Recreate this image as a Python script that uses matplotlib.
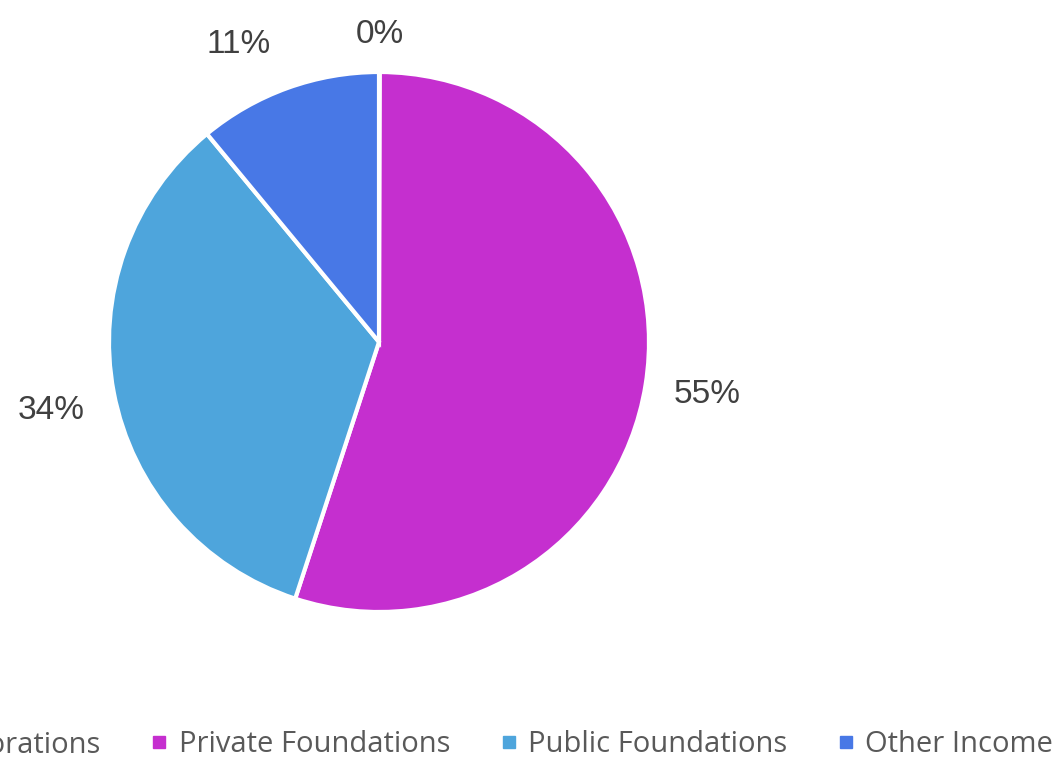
import matplotlib
matplotlib.use("Agg")
import matplotlib.pyplot as plt
from matplotlib.lines import Line2D
import numpy as np

categories = ["Corporations", "Private Foundations", "Public Foundations", "Other Income"]
values = [0.05, 55, 34, 11]
colors = ["#3B3EAC", "#C52FCF", "#4EA5DC", "#4878E6"]

W, H = 1059, 758
fig = plt.figure(figsize=(W / 100, H / 100), dpi=100)
ax = fig.add_axes([0, 0, 1, 1])

cx, cy, R = 379, H - 342, 270
total = sum(values)
wedges, texts = ax.pie(
    values,
    colors=colors,
    startangle=90,
    counterclock=False,
    center=(cx, cy),
    radius=R,
    labels=[f"{v / total * 100:.0f}%" for v in values],
    labeldistance=1.23,
    wedgeprops=dict(edgecolor="white", linewidth=3),
    textprops=dict(fontsize=24, color="#404040", family="Liberation Sans"),
)
# label placement tweaks (small slices pushed apart, as in the original)
label_dist = [1.14, 1.23, 1.24, 1.22]
label_shift = [0.0, 0.0, 1.0, 5.5]  # degrees (counter-clockwise)
for w, t, d, s in zip(wedges, texts, label_dist, label_shift):
    ang = np.deg2rad((w.theta1 + w.theta2) / 2 + s)
    t.set_position((cx + d * R * np.cos(ang), cy + d * R * np.sin(ang)))
    t.set_horizontalalignment("center")
    t.set_verticalalignment("center")

ax.set_xlim(0, W)
ax.set_ylim(0, H)
ax.set_aspect("equal")
ax.axis("off")

handles = [Line2D([], [], marker="s", linestyle="", markersize=8.6, color=c) for c in colors]
leg = fig.legend(
    handles, categories,
    loc="center", bbox_to_anchor=(475 / W, 1 - 745 / H),
    ncol=4, frameon=False,
    prop=dict(family="Open Sans", size=21),
    labelcolor="#595959",
    handlelength=0.42, handletextpad=0.45, columnspacing=1.8,
    borderpad=0, borderaxespad=0,
)

fig.savefig("out.png", dpi=100)
